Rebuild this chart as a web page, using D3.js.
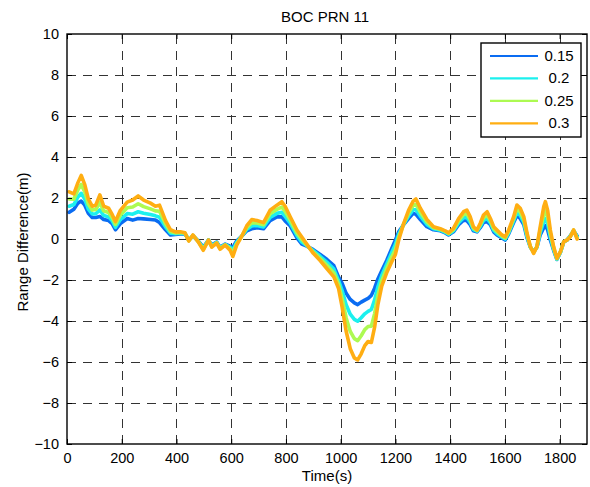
<!DOCTYPE html>
<html>
<head>
<meta charset="utf-8">
<script src="https://cdn.jsdelivr.net/npm/d3@7"></script>
<style>
  body { margin: 0; background: #fff; }
  text { font-family: "Liberation Sans", Arial, Helvetica, sans-serif; fill: #000; }
</style>
</head>
<body>
<svg id="chart" width="590" height="487"></svg>
<script>
// Sample times (s)
const timeSec = [8,25,40,52,65,78,92,105,120,134,152,165,177,195,220,240,260,280,305,323,338,360,378,396,414,431,445,460,480,498,517,529,547,559,578,596,606,620,639,657,675,694,718,742,767,785,797,815,840,858,876,900,925,950,975,992,1005,1020,1035,1050,1062,1075,1088,1100,1112,1124,1136,1150,1168,1187,1200,1212,1230,1248,1265,1275,1291,1315,1339,1364,1382,1394,1412,1431,1449,1461,1473,1485,1498,1510,1522,1535,1547,1559,1571,1589,1601,1614,1632,1644,1656,1669,1681,1693,1705,1717,1729,1742,1748,1756,1766,1778,1790,1803,1815,1827,1839,1851,1864];

// Range difference (m) for each setting
const range015 = [1.30,1.45,1.75,1.85,1.65,1.25,1.05,1.05,1.10,0.95,0.90,0.75,0.45,0.75,1.00,0.92,1.00,0.98,0.95,0.93,0.80,0.45,0.20,0.22,0.25,0.25,-0.05,0.15,-0.10,-0.40,-0.05,-0.30,-0.15,-0.40,-0.25,-0.35,-0.40,-0.10,0.15,0.40,0.50,0.55,0.50,0.90,1.08,1.08,0.88,0.65,0.05,-0.25,-0.35,-0.52,-0.75,-1.00,-1.30,-1.85,-2.15,-2.65,-2.95,-3.12,-3.20,-3.08,-2.98,-2.90,-2.75,-2.40,-1.95,-1.55,-1.05,-0.45,-0.05,0.35,0.70,1.00,1.25,1.20,0.95,0.60,0.45,0.40,0.30,0.20,0.35,0.70,0.92,0.90,0.70,0.40,0.35,0.55,0.80,0.85,0.70,0.35,0.20,0.05,-0.05,0.25,0.80,1.15,1.00,0.70,0.05,-0.40,-0.62,-0.40,0.20,0.55,0.65,0.45,-0.05,-0.55,-1.00,-0.65,-0.15,-0.05,0.15,0.40,0.15];

const range020 = [1.60,1.68,2.05,2.23,1.95,1.46,1.22,1.23,1.42,1.15,1.08,0.89,0.57,0.95,1.24,1.21,1.33,1.26,1.19,1.13,1.06,0.59,0.28,0.26,0.28,0.27,-0.07,0.17,-0.12,-0.45,-0.05,-0.33,-0.17,-0.43,-0.27,-0.41,-0.54,-0.16,0.15,0.48,0.64,0.66,0.59,1.05,1.25,1.30,1.10,0.79,0.17,-0.15,-0.32,-0.57,-0.84,-1.14,-1.47,-2.02,-2.50,-3.21,-3.67,-3.92,-4.01,-3.84,-3.65,-3.53,-3.44,-2.97,-2.33,-1.78,-1.23,-0.65,-0.26,0.23,0.72,1.12,1.43,1.43,1.12,0.71,0.50,0.43,0.33,0.23,0.40,0.79,1.04,1.05,0.82,0.46,0.38,0.62,0.91,0.99,0.79,0.43,0.27,0.10,0.00,0.31,0.89,1.30,1.15,0.82,0.12,-0.39,-0.64,-0.39,0.32,0.85,0.99,0.75,0.10,-0.50,-0.98,-0.64,-0.14,-0.05,0.14,0.41,0.10];

const range025 = [1.95,1.94,2.40,2.66,2.30,1.71,1.41,1.44,1.78,1.37,1.29,1.04,0.71,1.17,1.52,1.56,1.72,1.58,1.47,1.37,1.35,0.74,0.36,0.30,0.32,0.28,-0.08,0.18,-0.13,-0.50,-0.05,-0.37,-0.18,-0.47,-0.28,-0.48,-0.69,-0.23,0.15,0.56,0.79,0.78,0.70,1.23,1.45,1.56,1.35,0.94,0.30,-0.02,-0.29,-0.64,-0.95,-1.29,-1.66,-2.21,-2.90,-3.85,-4.51,-4.86,-4.96,-4.72,-4.42,-4.27,-4.25,-3.64,-2.76,-2.04,-1.44,-0.87,-0.51,0.09,0.73,1.26,1.64,1.69,1.31,0.83,0.55,0.47,0.37,0.27,0.46,0.90,1.19,1.23,0.95,0.53,0.41,0.69,1.04,1.16,0.90,0.51,0.36,0.15,0.05,0.37,0.99,1.48,1.32,0.95,0.20,-0.38,-0.67,-0.38,0.46,1.20,1.38,1.06,0.27,-0.43,-0.96,-0.63,-0.14,-0.05,0.12,0.43,0.05];

const range030 = [2.30,2.20,2.75,3.10,2.65,1.95,1.60,1.65,2.15,1.60,1.50,1.20,0.85,1.40,1.80,1.90,2.10,1.90,1.75,1.60,1.65,0.90,0.45,0.35,0.35,0.30,-0.10,0.20,-0.15,-0.55,-0.05,-0.40,-0.20,-0.50,-0.30,-0.55,-0.85,-0.30,0.15,0.65,0.95,0.90,0.80,1.40,1.65,1.82,1.60,1.10,0.44,0.10,-0.25,-0.70,-1.05,-1.45,-1.85,-2.40,-3.30,-4.50,-5.35,-5.80,-5.90,-5.60,-5.20,-5.00,-5.05,-4.30,-3.20,-2.30,-1.65,-1.10,-0.75,-0.05,0.75,1.40,1.85,1.95,1.50,0.95,0.60,0.50,0.40,0.30,0.52,1.00,1.33,1.41,1.09,0.60,0.44,0.77,1.17,1.33,1.00,0.60,0.44,0.20,0.11,0.44,1.09,1.66,1.50,1.09,0.28,-0.37,-0.70,-0.37,0.60,1.58,1.82,1.41,0.44,-0.37,-0.94,-0.62,-0.13,-0.05,0.11,0.44,0.00];

const seriesLabels = ["0.15", "0.2", "0.25", "0.3"];
const seriesValues = [range015, range020, range025, range030];
const seriesColors = ["#0a6cf2", "#1cf0ee", "#adfa52", "#ffae12"];

const xTicks = [0, 200, 400, 600, 800, 1000, 1200, 1400, 1600, 1800];
const yTicks = [-10, -8, -6, -4, -2, 0, 2, 4, 6, 8, 10];

const titleText = "BOC PRN 11";
const xLabel = "Time(s)";
const yLabel = "Range Difference(m)";

// Layout
const svg = d3.select("#chart");
const plot = { left: 67, right: 587, top: 34, bottom: 444 };

const x = d3.scaleLinear().domain([0, 1900]).range([plot.left, plot.right]);
const y = d3.scaleLinear().domain([-10, 10]).range([plot.bottom, plot.top]);

svg.append("rect").attr("width", 590).attr("height", 487).attr("fill", "#fff");

// Dashed grid
const grid = svg.append("g")
  .attr("stroke", "#333")
  .attr("stroke-width", 1)
  .attr("stroke-dasharray", "9,7")
  .attr("fill", "none");
grid.selectAll("line.v").data(xTicks.slice(1)).join("line")
  .attr("class", "v")
  .attr("x1", d => Math.round(x(d)) + 0.5).attr("x2", d => Math.round(x(d)) + 0.5)
  .attr("y1", plot.bottom).attr("y2", plot.top);
grid.selectAll("line.h").data(yTicks.slice(1, -1)).join("line")
  .attr("class", "h")
  .attr("y1", d => Math.round(y(d)) + 0.5).attr("y2", d => Math.round(y(d)) + 0.5)
  .attr("x1", plot.left).attr("x2", plot.right);

// Data lines
const line = d3.line()
  .x((d, i) => x(timeSec[i]))
  .y(d => y(d));

svg.append("g")
  .selectAll("path")
  .data(seriesValues)
  .join("path")
  .attr("d", d => line(d))
  .attr("fill", "none")
  .attr("stroke", (d, i) => seriesColors[i])
  .attr("stroke-width", 3.6)
  .attr("stroke-linejoin", "round")
  .attr("stroke-linecap", "round");

// Axes with inward ticks on all four sides
const tickLen = 5;
const fontSize = 14.5;
const fmt = d3.format("d");

const axB = d3.axisBottom(x).tickValues(xTicks).tickFormat(fmt).tickSizeInner(-tickLen).tickSizeOuter(0).tickPadding(9);
const axL = d3.axisLeft(y).tickValues(yTicks).tickFormat(fmt).tickSizeInner(-tickLen).tickSizeOuter(0).tickPadding(8);
const axT = d3.axisTop(x).tickValues(xTicks).tickSizeInner(-tickLen).tickSizeOuter(0).tickFormat("");
const axR = d3.axisRight(y).tickValues(yTicks).tickSizeInner(-tickLen).tickSizeOuter(0).tickFormat("");

function styleAxis(g) {
  g.select(".domain").remove();
  g.selectAll(".tick line").attr("stroke", "#000").attr("stroke-width", 1);
  g.selectAll(".tick text").style("font-size", fontSize + "px").attr("fill", "#000");
}

svg.append("g").attr("transform", `translate(0,${plot.bottom})`).call(axB).call(styleAxis);
svg.append("g").attr("transform", `translate(${plot.left},0)`).call(axL).call(styleAxis);
svg.append("g").attr("transform", `translate(0,${plot.top})`).call(axT).call(styleAxis);
svg.append("g").attr("transform", `translate(${plot.right},0)`).call(axR).call(styleAxis);

// Axes box
svg.append("rect")
  .attr("x", plot.left).attr("y", plot.top)
  .attr("width", plot.right - plot.left).attr("height", plot.bottom - plot.top)
  .attr("fill", "none").attr("stroke", "#000").attr("stroke-width", 1.4);

// Title and axis labels
svg.append("text")
  .attr("x", (plot.left + plot.right) / 2 - 2).attr("y", 21.5)
  .attr("text-anchor", "middle").style("font-size", "15px")
  .text(titleText);

svg.append("text")
  .attr("x", (plot.left + plot.right) / 2).attr("y", 481)
  .attr("text-anchor", "middle").style("font-size", "15px")
  .text(xLabel);

svg.append("text")
  .attr("transform", `translate(28,${(plot.top + plot.bottom) / 2 + 3}) rotate(-90)`)
  .attr("text-anchor", "middle").style("font-size", "15px")
  .text(yLabel);

// Legend
const legend = svg.append("g").attr("transform", "translate(481,43)");
legend.append("rect")
  .attr("width", 100).attr("height", 94)
  .attr("fill", "#fff").attr("stroke", "#000").attr("stroke-width", 1.4);

const legendRow = d3.scaleLinear().domain([0, 3]).range([13, 80.3]);
const entries = legend.selectAll("g.entry")
  .data(seriesLabels)
  .join("g")
  .attr("class", "entry")
  .attr("transform", (d, i) => `translate(0,${legendRow(i)})`);
entries.append("line")
  .attr("x1", 9).attr("x2", 57)
  .attr("stroke", (d, i) => seriesColors[i])
  .attr("stroke-width", 2.2);
entries.append("text")
  .attr("x", 78).attr("y", 5)
  .attr("text-anchor", "middle")
  .style("font-size", "15px")
  .text(d => d);
</script>
</body>
</html>
